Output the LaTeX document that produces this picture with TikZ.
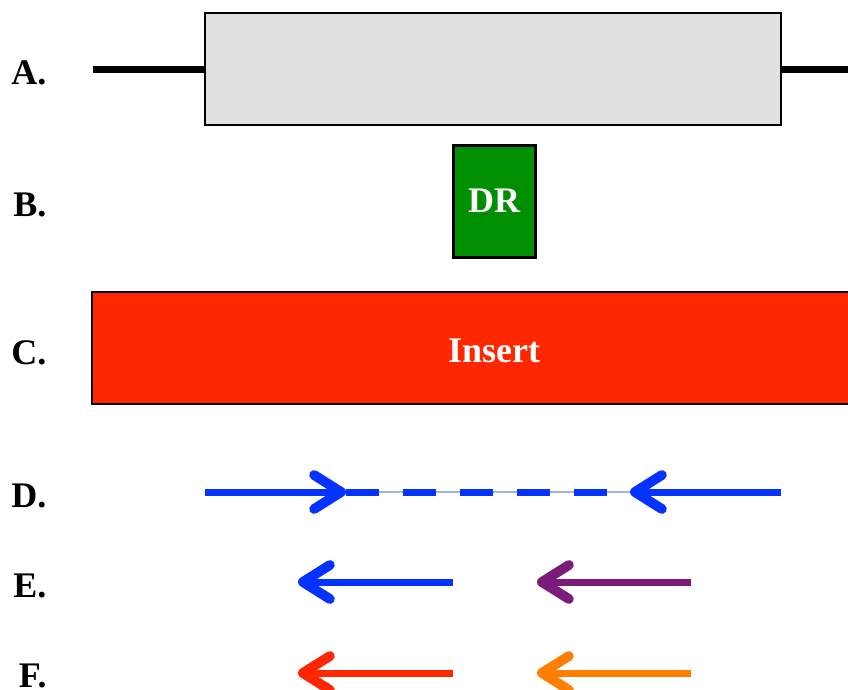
\documentclass[tikz,border=0pt]{standalone}
\usepackage{fontspec}
\setmainfont{Liberation Serif}
\usepackage{tikz}
\usetikzlibrary{arrows.meta, positioning}
\usepackage{xcolor}

\definecolor{geneGray}{HTML}{E0E0E0}
\definecolor{drGreen}{HTML}{008F00}
\definecolor{insRed}{HTML}{FF2600}
\definecolor{primBlue}{HTML}{0433FF}
\definecolor{primPurple}{HTML}{7B1C7A}
\definecolor{primOrange}{HTML}{FF8000}
\definecolor{linkBlue}{HTML}{9DB8E0}

\begin{document}
\begin{tikzpicture}[
    x=1pt, y=-1pt,
    rowlabel/.style={anchor=base east, font=\bfseries\fontsize{36}{40}\selectfont},
    box/.style={rectangle, draw=black, line width=2pt, inner sep=0pt, font=\bfseries\fontsize{36}{40}\selectfont, text=white},
    primer/.style={line width=7pt, -{Straight Barb[length=27pt, width=34pt, line width=0pt 1.4, round]}}
]
    \clip (0,0) rectangle (848,689);

    % Row labels
    \node[rowlabel] (labA) at (50,84) {A.};
    \node[rowlabel] (labB) at (50,216) {B.};
    \node[rowlabel] (labC) at (50,364) {C.};
    \node[rowlabel] (labD) at (50,507) {D.};
    \node[rowlabel] (labE) at (50,597) {E.};
    \node[rowlabel] (labF) at (50,687) {F.};

    % A. gene with flanking line
    \coordinate (flankL) at (93,69);
    \coordinate (flankR) at (860,69);
    \node[box, fill=geneGray, minimum width=576pt, minimum height=112pt] (gene) at (493,69) {};
    \draw[line width=7pt] (flankL) -- (gene.west);
    \draw[line width=7pt] (gene.east) -- (flankR);

    % B. direct repeat
    \node[box, fill=drGreen, line width=3pt, minimum width=82pt, minimum height=112pt] (dr) at (494,201) {DR};

    % C. insert
    \node[box, fill=insRed, minimum width=804pt, minimum height=112pt] (insert) at (494,348) {};
    \node[font=\bfseries\fontsize{36}{40}\selectfont, text=white] (insertText) at (494,351) {Insert};

    % D. outward primers with linked region
    \coordinate (dLeft) at (205,492);
    \coordinate (dTipL) at (346,492);
    \coordinate (dTipR) at (630,492);
    \coordinate (dRight) at (781,492);
    \draw[linkBlue, line width=1.5pt] (dTipL) -- (dTipR);
    \draw[primBlue, line width=7pt, dash pattern=on 33pt off 24pt] (dTipL) -- (dTipR);
    \draw[primer, primBlue] (dLeft) -- (dTipL);
    \draw[primer, primBlue] (dRight) -- (dTipR);

    % E. reverse primers
    \coordinate (eStart1) at (453,582);
    \coordinate (eTip1) at (298,582);
    \coordinate (eStart2) at (691,582);
    \coordinate (eTip2) at (537,582);
    \draw[primer, primBlue] (eStart1) -- (eTip1);
    \draw[primer, primPurple] (eStart2) -- (eTip2);

    % F. reverse primers
    \coordinate (fStart1) at (453,673);
    \coordinate (fTip1) at (298,673);
    \coordinate (fStart2) at (691,673);
    \coordinate (fTip2) at (537,673);
    \draw[primer, insRed] (fStart1) -- (fTip1);
    \draw[primer, primOrange] (fStart2) -- (fTip2);
\end{tikzpicture}
\end{document}
